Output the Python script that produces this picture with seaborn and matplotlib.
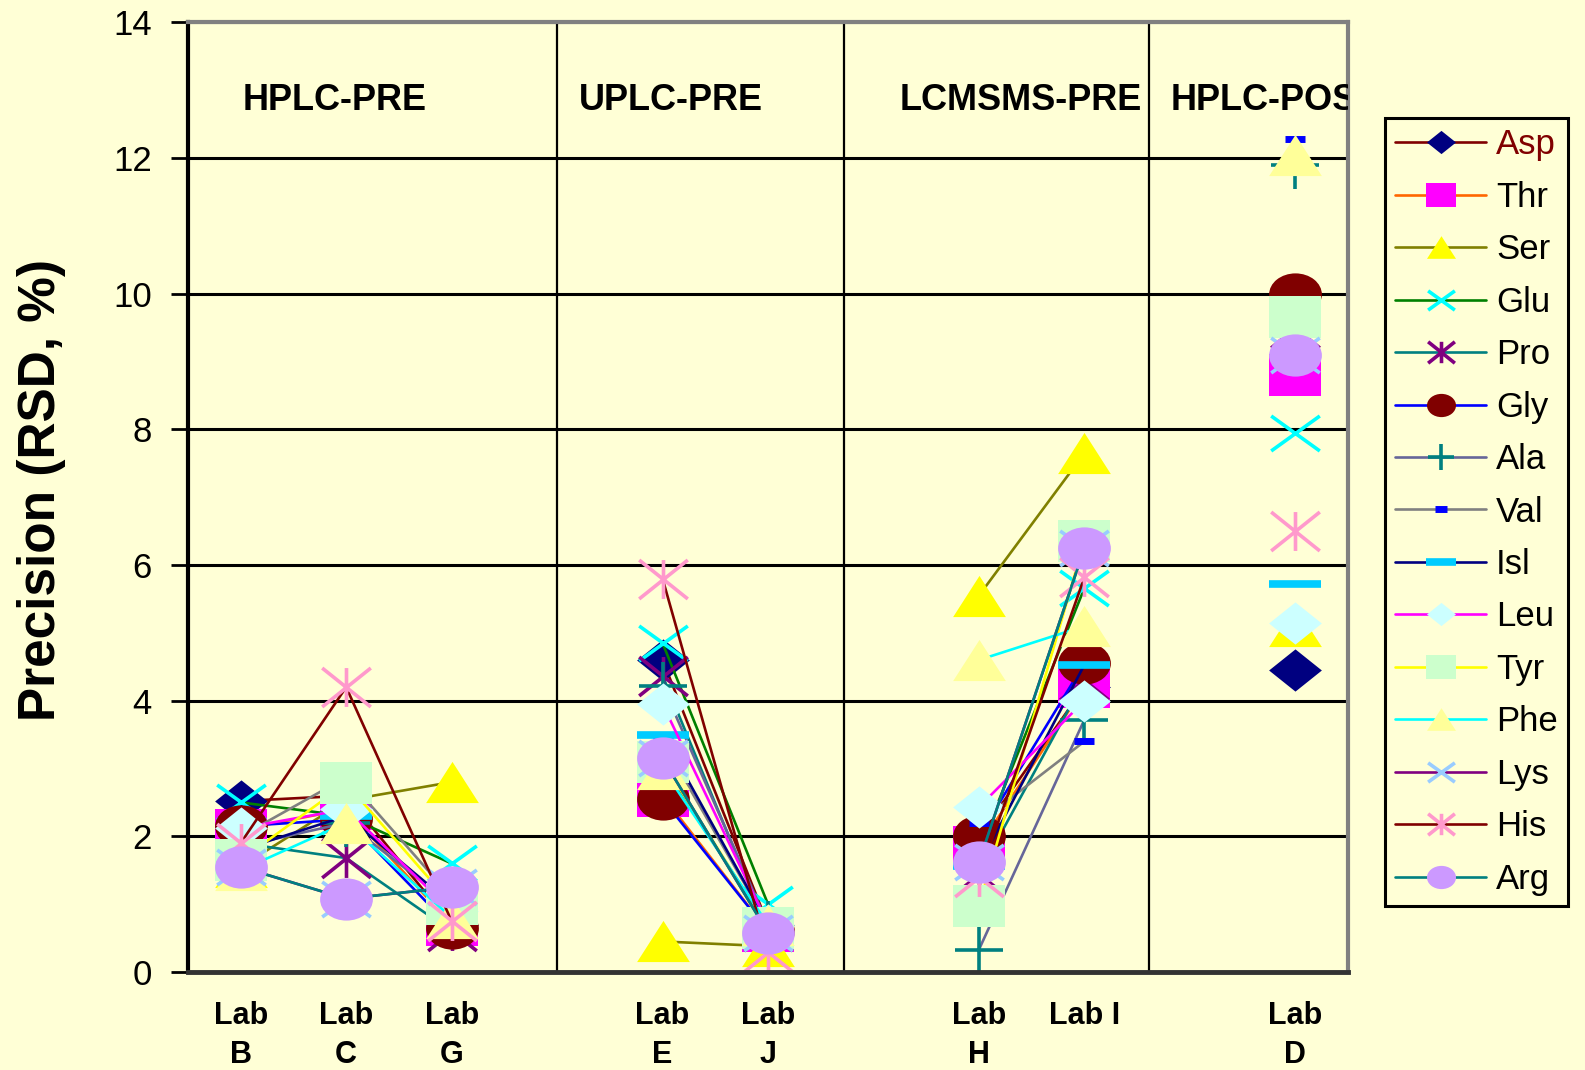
import numpy as np
import pandas as pd
import seaborn as sns
import matplotlib.pyplot as plt
from matplotlib.path import Path
from matplotlib.lines import Line2D

nan = np.nan

# categories (blank slots separate the method groups)
labs = ['Lab\nB', 'Lab\nC', 'Lab\nG', '', 'Lab\nE', 'Lab\nJ', '', 'Lab\nH', 'Lab I', '', 'Lab\nD']
groups = [[0, 1, 2], [4, 5], [7, 8], [10]]
group_names = ['HPLC-PRE', 'UPLC-PRE', 'LCMSMS-PRE', 'HPLC-POS']

aminos = ['Asp', 'Thr', 'Ser', 'Glu', 'Pro', 'Gly', 'Ala', 'Val', 'Isl', 'Leu',
          'Tyr', 'Phe', 'Lys', 'His', 'Arg']

#            B     C     G    -    E     J    -    H     I    -    D
asp = [2.52, 2.60, 0.70, nan, 4.60, 0.70, nan, 2.00, 4.20, nan, 4.45]
thr = [2.10, 2.40, 0.70, nan, 2.60, 0.60, nan, 1.85, 4.20, nan, 8.80]
ser = [1.55, 2.53, 2.80, nan, 0.45, 0.38, nan, 5.55, 7.65, nan, 5.10]
glu = [2.50, 2.30, 1.60, nan, 4.85, 1.00, nan, 1.80, 5.66, nan, 7.95]
pro = [1.90, 1.68, 0.60, nan, 4.37, 0.60, nan, 1.45, 4.30, nan, 9.50]
gly = [2.15, 2.25, 0.65, nan, 2.55, 0.60, nan, 2.00, 4.55, nan, 10.0]
ala = [1.85, 2.20, 1.00, nan, 4.22, 0.70, nan, 0.33, 3.72, nan, 11.9]
val = [2.00, 2.87, 1.10, nan, 3.40, 0.70, nan, 2.20, 3.40, nan, 12.28]
isl = [1.80, 2.30, 1.00, nan, 3.50, 0.70, nan, 1.57, 4.53, nan, 5.72]
leu = [2.12, 2.40, 0.90, nan, 3.95, 0.70, nan, 2.43, 4.00, nan, 5.15]
tyr = [1.65, 2.78, 1.00, nan, 3.10, 0.65, nan, 0.98, 6.35, nan, 9.65]
phe = [1.50, 2.20, 0.80, nan, 3.00, 0.70, nan, 4.60, 5.10, nan, 12.05]
lys = [1.55, 1.08, 1.25, nan, 3.15, 0.58, nan, 1.62, 6.25, nan, 9.10]
his = [1.90, 4.20, 0.75, nan, 5.80, 0.30, nan, 1.40, 5.82, nan, 6.50]
arg = [1.55, 1.08, 1.25, nan, 3.15, 0.58, nan, 1.62, 6.25, nan, 9.10]
series = [asp, thr, ser, glu, pro, gly, ala, val, isl, leu, tyr, phe, lys, his, arg]

line_colors = ['#800000', '#FF6600', '#808000', '#008000', '#008080', '#0000FF', '#666699',
               '#808080', '#000080', '#FF00FF', '#FFFF00', '#00FFFF', '#800080', '#800000', '#008080']
marker_colors = ['#000080', '#FF00FF', '#FFFF00', '#00FFFF', '#800080', '#800000', '#008080',
                 '#0000FF', '#00CCFF', '#CCFFFF', '#CCFFCC', '#FFFF99', '#99CCFF', '#FF99CC', '#CC99FF']
marker_kinds = ['diamond', 'square', 'triangle', 'x', 'star', 'ellipse', 'plus',
                'short', 'long', 'diamond', 'square', 'triangle', 'x', 'star', 'ellipse']

bg = '#FFFFD6'

# excel style markers, a bit wider than tall
M, L = Path.MOVETO, Path.LINETO
circ = Path.unit_circle()
shapes = {
    'diamond': Path([(0, 0.8), (1, 0), (0, -0.8), (-1, 0), (0, 0.8)]),
    'square': Path([(-1, -0.8), (1, -0.8), (1, 0.8), (-1, 0.8), (-1, -0.8)]),
    'triangle': Path([(-1, -0.78), (1, -0.78), (0, 0.78), (-1, -0.78)]),
    'ellipse': Path(circ.vertices * [1, 0.8], circ.codes),
    'x': Path([(-1, -0.72), (1, 0.72), (-1, 0.72), (1, -0.72)], [M, L, M, L]),
    'star': Path([(0, -0.8), (0, 0.8), (-1, -0.8), (1, 0.8), (-1, 0.8), (1, -0.8)],
                 [M, L, M, L, M, L]),
    'plus': Path([(-1, 0), (1, 0), (0, -1), (0, 1)], [M, L, M, L]),
}


def marker_kw(kind, col, scale=1.0):
    if kind in ('diamond', 'square', 'triangle', 'ellipse'):
        return dict(marker=shapes[kind], markersize=38 * scale, markerfacecolor=col,
                    markeredgecolor=col, markeredgewidth=0)
    if kind in ('x', 'star', 'plus'):
        return dict(marker=shapes[kind], markersize=35 * scale, markerfacecolor='none',
                    markeredgecolor=col, markeredgewidth=2.6)
    if kind == 'short':
        return dict(marker='_', markersize=15 * scale, markeredgecolor=col, markeredgewidth=5)
    return dict(marker='_', markersize=38 * scale, markeredgecolor=col, markeredgewidth=5.5)


sns.set_style('white')
plt.rcParams['font.family'] = ['Liberation Sans', 'DejaVu Sans']
plt.rcParams['text.color'] = 'black'
plt.rcParams['xtick.color'] = 'black'
plt.rcParams['ytick.color'] = 'black'
plt.rcParams['xtick.labelcolor'] = 'black'
plt.rcParams['ytick.labelcolor'] = 'black'

fig = plt.figure(figsize=(15.85, 10.70), dpi=100, facecolor=bg)
ax = fig.add_axes([0.1186, 0.0916, 0.8505 - 0.1186, 0.979 - 0.0916])
ax.set_facecolor(bg)

x = np.arange(len(labs))
for name, vals, lc, mc, mk in zip(aminos, series, line_colors, marker_colors, marker_kinds):
    df = pd.DataFrame({'x': x, 'y': vals}).dropna()
    for g in groups:
        seg = df[df['x'].isin(g)]
        if len(seg) == 0:
            continue
        sns.lineplot(data=seg, x='x', y='y', ax=ax, color=lc, linewidth=1.9,
                     estimator=None, sort=False, legend=False, **marker_kw(mk, mc))

# separators between methods
for xs in [3.0, 5.72, 8.61]:
    ax.axvline(xs, color='black', lw=1.6, zorder=1)

for gx, gname in zip([0.89, 4.08, 7.40, 9.70], group_names):
    ax.text(gx, 12.85, gname, ha='center', va='center', fontsize=26,
            fontweight='bold', clip_on=True)

ax.set_xlim(-0.5, 10.5)
ax.set_ylim(0, 14)
ax.set_yticks(np.arange(0, 15, 2))
ax.set_xticks(x)
ax.set_xticklabels(labs, fontsize=22, fontweight='bold', linespacing=1.4)
ax.set_xticks(np.arange(-0.5, 11, 1), minor=True)
ax.tick_params(axis='x', which='major', length=0, pad=21)
ax.tick_params(axis='x', which='minor', length=10, width=2, direction='out', color='black')
ax.tick_params(axis='y', length=12, width=2, direction='out', color='black',
               labelsize=25, pad=14, left=True)
ax.set_xlabel('')
ax.set_ylabel('')
ax.yaxis.grid(True, color='black', lw=2.2)
ax.set_axisbelow(True)

ax.spines['left'].set_color('black')
ax.spines['left'].set_linewidth(3)
ax.spines['bottom'].set_color('#333333')
ax.spines['bottom'].set_linewidth(3.5)
ax.spines['top'].set_color('#808080')
ax.spines['top'].set_linewidth(3)
ax.spines['right'].set_color('#808080')
ax.spines['right'].set_linewidth(3)

fig.text(42 / 1585, 1 - 490 / 1070, 'Precision (RSD, %)', rotation=90, ha='center',
         va='center', fontsize=37, fontweight='bold')

handles = [Line2D([0], [0], color=lc, lw=1.9, **marker_kw(mk, mc, 0.55))
           for lc, mc, mk in zip(line_colors, marker_colors, marker_kinds)]
leg = fig.legend(handles, aminos, loc='upper left', bbox_to_anchor=(0.8738, 0.8897),
                 fontsize=25, frameon=True, fancybox=False, facecolor=bg, edgecolor='black',
                 framealpha=1, handlelength=2.6, handletextpad=0.3, borderpad=0.3,
                 labelspacing=0.56, borderaxespad=0)
leg.get_frame().set_linewidth(2.2)
leg.get_texts()[0].set_color('#800000')

fig.savefig('out.png', dpi=100, facecolor=bg)
